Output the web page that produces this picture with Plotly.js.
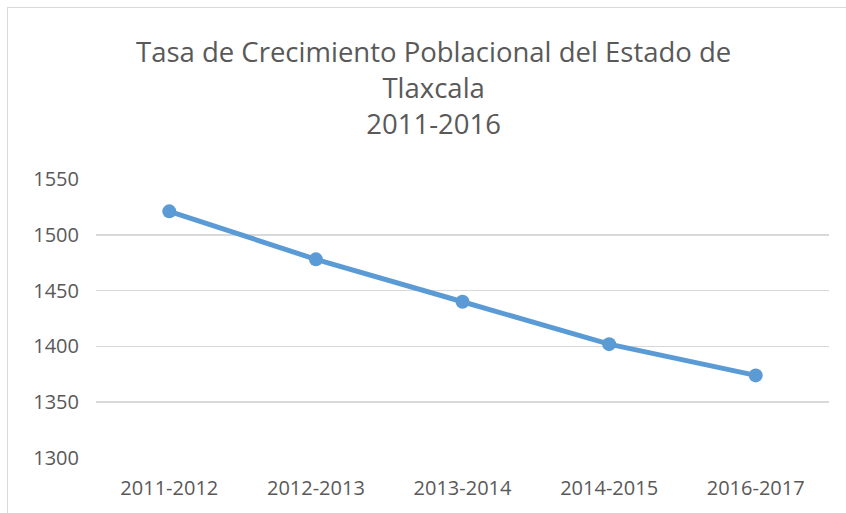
<!DOCTYPE html>
<html>
<head>
<meta charset="utf-8">
<script src="https://cdn.plot.ly/plotly-3.0.1.min.js"></script>
<style>
html,body{margin:0;padding:0;background:#fff;overflow:hidden;}
#chart{width:846px;height:513px;position:absolute;left:0;top:0;}
#frame{position:absolute;left:7px;top:7px;width:900px;height:600px;border:1px solid #d9d9d9;pointer-events:none;}
</style>
</head>
<body>
<div id="chart"></div>
<div id="frame"></div>
<script>
const categories = ["2011-2012", "2012-2013", "2013-2014", "2014-2015", "2016-2017"];
const values = [1521, 1478, 1440, 1402, 1374];
const yTicks = [1300, 1350, 1400, 1450, 1500, 1550];
const titleText = "Tasa de Crecimiento Poblacional del Estado de<br>Tlaxcala<br>2011-2016";

const trace = {
  x: categories,
  y: values,
  type: "scatter",
  mode: "lines+markers",
  line: {color: "#5B9BD5", width: 5},
  marker: {color: "#5B9BD5", size: 14},
  hoverinfo: "x+y"
};

const layout = {
  width: 846,
  height: 513,
  margin: {l: 96, r: 17, t: 179, b: 55},
  paper_bgcolor: "#ffffff",
  plot_bgcolor: "#ffffff",
  showlegend: false,
  annotations: [{
    text: titleText,
    xref: "paper",
    yref: "paper",
    x: (433 - 96) / 733,
    y: (458 - 88) / 279,
    xanchor: "center",
    yanchor: "middle",
    align: "center",
    showarrow: false,
    font: {family: "Open Sans, sans-serif", size: 27.5, color: "#595959"}
  }],
  xaxis: {
    type: "category",
    range: [-0.5, 4.5],
    showgrid: false,
    zeroline: false,
    showline: false,
    ticks: "",
    ticklabelstandoff: 16,
    tickfont: {family: "Open Sans, sans-serif", size: 20, color: "#595959"},
    fixedrange: true
  },
  yaxis: {
    range: [1300, 1550],
    tickvals: yTicks,
    ticktext: yTicks.map(String),
    showgrid: true,
    gridcolor: "#d9d9d9",
    gridwidth: 1.5,
    zeroline: false,
    showline: false,
    ticks: "",
    ticklabelstandoff: 16,
    tickfont: {family: "Open Sans, sans-serif", size: 20, color: "#595959"},
    fixedrange: true
  }
};

Plotly.newPlot("chart", [trace], layout, {displayModeBar: false, staticPlot: true});
</script>
</body>
</html>
